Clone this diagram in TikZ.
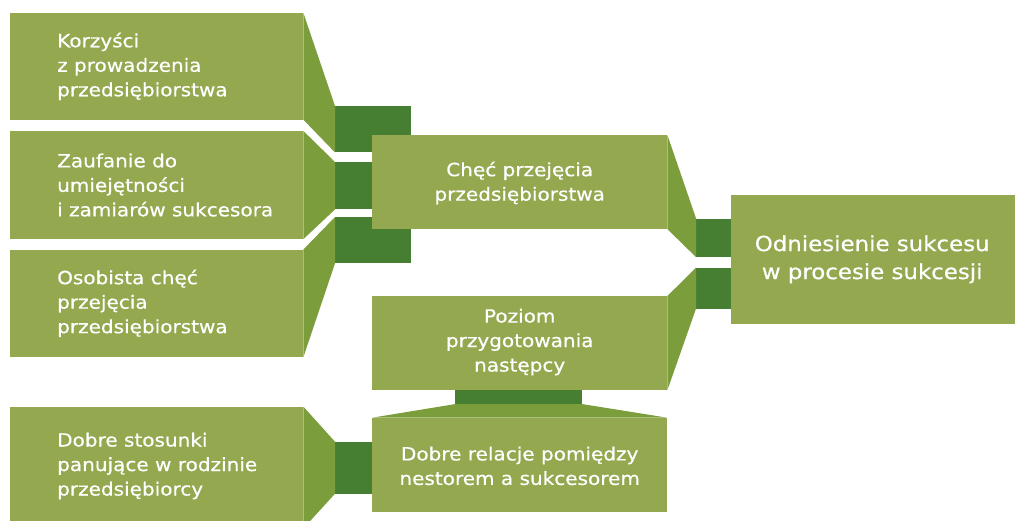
\documentclass[tikz,border=0pt]{standalone}
\usepackage{fontspec}
\setmainfont{DejaVu Sans}[FakeStretch=1.1, FakeBold=0.6]
\definecolor{boxlight}{HTML}{94A94F}
\definecolor{boxmid}{HTML}{7B9D3C}
\definecolor{boxdark}{HTML}{467F31}
\tikzset{
  box/.style={fill=boxlight, draw=none, inner sep=0pt, anchor=north west},
  bar/.style={fill=boxdark, draw=none, inner sep=0pt, anchor=north west},
  face/.style={fill=boxmid, draw=none},
  lbl/.style={text=white, inner sep=0pt, font=\fontsize{18.2}{24.5}\selectfont},
  lbll/.style={lbl, align=left, anchor=west},
  lblc/.style={lbl, align=center},
  bigl/.style={text=white, inner sep=0pt, align=center, font=\fontsize{20.8}{28}\selectfont}
}
\begin{document}
\begin{tikzpicture}[x=1pt,y=-1pt]
\useasboundingbox (0,0) rectangle (1015,520);
\clip (0,0) rectangle (1015,520);

% connecting bars (drawn first, they pass under the boxes)
\node[bar, minimum width=76pt, minimum height=46pt]   (a1) at (335,106)   {};
\node[bar, minimum width=76pt, minimum height=47pt]   (b1) at (335,162)   {};
\node[bar, minimum width=76pt, minimum height=46pt]   (c1) at (335,217)   {};
\node[bar, minimum width=37pt, minimum height=51.6pt] (d1) at (335,441.7) {};
\node[bar, minimum width=35pt, minimum height=38.4pt] (p1) at (696,218.3) {};
\node[bar, minimum width=35pt, minimum height=40.6pt] (q1) at (696,267.7) {};
\node[bar, minimum width=127pt, minimum height=14pt]  (r1) at (455,389.7) {};

% boxes
\node[box, minimum width=293pt, minimum height=106.3pt] (A) at (10,13)    {};
\node[box, minimum width=293pt, minimum height=107.7pt] (B) at (10,131)   {};
\node[box, minimum width=293pt, minimum height=107.2pt] (C) at (10,249.5) {};
\node[box, minimum width=293pt, minimum height=121.3pt] (D) at (10,406.7) {};
\node[box, minimum width=295pt, minimum height=93.7pt]  (P) at (372,135)  {};
\node[box, minimum width=295pt, minimum height=93.7pt]  (Q) at (372,296)  {};
\node[box, minimum width=295pt, minimum height=94pt]    (R) at (372,417.7){};
\node[box, minimum width=284pt, minimum height=128.3pt] (T) at (731,195)  {};

% slanted faces joining each box to its bar
\fill[face] (A.north east) -- (a1.north west) -- (a1.south west) -- (A.south east) -- cycle;
\fill[face] (B.north east) -- (b1.north west) -- (b1.south west) -- (B.south east) -- cycle;
\fill[face] (C.north east) -- (c1.north west) -- (c1.south west) -- (C.south east) -- cycle;
\fill[face] (D.north east) -- (d1.north west) -- (d1.south west) -- (D.south east) -- cycle;
\fill[face] (P.north east) -- (p1.north west) -- (p1.south west) -- (P.south east) -- cycle;
\fill[face] (Q.north east) -- (q1.north west) -- (q1.south west) -- (Q.south east) -- cycle;
\fill[face] (r1.south west) -- (r1.south east) -- (R.north east) -- (R.north west) -- cycle;

% labels
\node[lbll] (At) at ([xshift=47pt]A.west) {Korzyści\\z prowadzenia\\przedsiębiorstwa};
\node[lbll] (Bt) at ([xshift=47pt]B.west) {Zaufanie do\\umiejętności\\i zamiarów sukcesora};
\node[lbll] (Ct) at ([xshift=47pt]C.west) {Osobista chęć\\przejęcia\\przedsiębiorstwa};
\node[lbll] (Dt) at (57,466) {Dobre stosunki\\panujące w rodzinie\\przedsiębiorcy};
\node[lblc] (Pt) at ([yshift=-1pt]P.center) {Chęć przejęcia\\przedsiębiorstwa};
\node[lblc] (Qt) at ([yshift=1pt]Q.center) {Poziom\\przygotowania\\następcy};
\node[lblc] (Rt) at ([yshift=-1pt]R.center) {Dobre relacje pomiędzy\\nestorem a sukcesorem};
\node[bigl] (Tt) at ([xshift=-1pt]T.center) {Odniesienie sukcesu\\w procesie sukcesji};
\end{tikzpicture}
\end{document}
